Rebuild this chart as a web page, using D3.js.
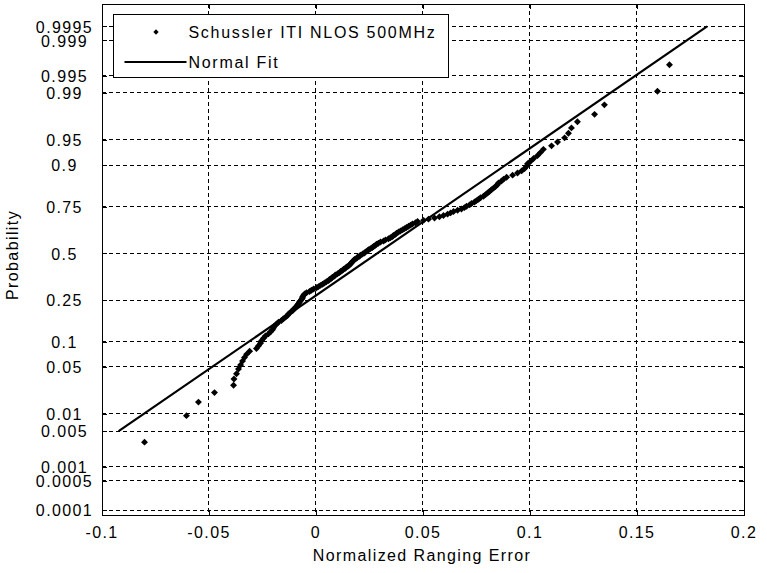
<!DOCTYPE html>
<html>
<head>
<meta charset="utf-8">
<script src="https://cdn.jsdelivr.net/npm/d3@7"></script>
<style>
  body { margin: 0; background: #fff; }
  svg text { font-family: "Liberation Sans", Arial, sans-serif; font-size: 16px; letter-spacing: 1.4px; fill: #000; }
  svg text.legend-text { letter-spacing: 1.7px; }
</style>
</head>
<body>
<div id="chart"></div>
<script>
// sorted normalized ranging errors
const errVals = [
  -0.0799, -0.0603, -0.0547, -0.0472, -0.0383, -0.0381, -0.0369, -0.0360, -0.0350, -0.0341,
  -0.0332, -0.0322, -0.0308, -0.0276, -0.0266, -0.0257, -0.0252, -0.0243, -0.0234, -0.0220,
  -0.0210, -0.0201, -0.0196, -0.0192, -0.0182, -0.0173, -0.0159, -0.0150, -0.0140, -0.0131,
  -0.0126, -0.0117, -0.0107, -0.0103, -0.0093, -0.0089, -0.0084, -0.0079, -0.0075, -0.0070,
  -0.0065, -0.0061, -0.0060, -0.0056, -0.0051, -0.0042, -0.0028, -0.0019, -0.0009, 0.0005,
  0.0014, 0.0023, 0.0033, 0.0042, 0.0051, 0.0061, 0.0065, 0.0075, 0.0079, 0.0089,
  0.0093, 0.0103, 0.0112, 0.0117, 0.0126, 0.0131, 0.0140, 0.0145, 0.0154, 0.0159,
  0.0164, 0.0168, 0.0173, 0.0178, 0.0182, 0.0192, 0.0196, 0.0206, 0.0210, 0.0220,
  0.0229, 0.0234, 0.0243, 0.0248, 0.0257, 0.0266, 0.0271, 0.0280, 0.0285, 0.0294,
  0.0304, 0.0318, 0.0327, 0.0341, 0.0350, 0.0360, 0.0364, 0.0374, 0.0379, 0.0388,
  0.0397, 0.0407, 0.0416, 0.0425, 0.0435, 0.0444, 0.0453, 0.0467, 0.0477, 0.0505,
  0.0528, 0.0556, 0.0579, 0.0598, 0.0617, 0.0631, 0.0645, 0.0664, 0.0682, 0.0696,
  0.0706, 0.0720, 0.0729, 0.0743, 0.0752, 0.0762, 0.0771, 0.0785, 0.0794, 0.0804,
  0.0813, 0.0822, 0.0832, 0.0841, 0.0850, 0.0855, 0.0869, 0.0879, 0.0893, 0.0921,
  0.0944, 0.0963, 0.0977, 0.0986, 0.0991, 0.1005, 0.1019, 0.1037, 0.1051, 0.1065,
  0.1103, 0.1131, 0.1164, 0.1182, 0.1196, 0.1224, 0.1304, 0.1350, 0.1598, 0.1654
];

// normal fit line end points
const fitX = [-0.092, 0.183];
const fitP = [0.005, 0.9995];

const xTicks = [-0.1, -0.05, 0, 0.05, 0.1, 0.15, 0.2];
const xTickLabels = ["-0.1", "-0.05", "0", "0.05", "0.1", "0.15", "0.2"];
const yTicks = [0.0001, 0.0005, 0.001, 0.005, 0.01, 0.05, 0.1, 0.25, 0.5, 0.75, 0.9, 0.95, 0.99, 0.995, 0.999, 0.9995];
const yTickLabels = ["0.0001", "0.0005", "0.001", "0.005", "0.01", "0.05", "0.1", "0.25", "0.5", "0.75", "0.9", "0.95", "0.99", "0.995", "0.999", "0.9995"];

const legendNames = ["Schussler ITI NLOS 500MHz", "Normal Fit"];

// inverse normal cdf (Acklam)
function probit(p) {
    const a = [-3.969683028665376e+01, 2.209460984245205e+02, -2.759285104469687e+02, 1.383577518672690e+02, -3.066479806614716e+01, 2.506628277459239e+00];
    const b = [-5.447609879822406e+01, 1.615858368580409e+02, -1.556989798598866e+02, 6.680131188771972e+01, -1.328068155288572e+01];
    const c = [-7.784894002430293e-03, -3.223964580411365e-01, -2.400758277161838e+00, -2.549732539343734e+00, 4.374664141464968e+00, 2.938163982698783e+00];
    const d = [7.784695709041462e-03, 3.224671290700398e-01, 2.445134137142996e+00, 3.754408661907416e+00];
    const pl = 0.02425;
    let q, r;
    if (p < pl) {
        q = Math.sqrt(-2 * Math.log(p));
        return (((((c[0]*q + c[1])*q + c[2])*q + c[3])*q + c[4])*q + c[5]) / ((((d[0]*q + d[1])*q + d[2])*q + d[3])*q + 1);
    }
    if (p > 1 - pl) {
        q = Math.sqrt(-2 * Math.log(1 - p));
        return -(((((c[0]*q + c[1])*q + c[2])*q + c[3])*q + c[4])*q + c[5]) / ((((d[0]*q + d[1])*q + d[2])*q + d[3])*q + 1);
    }
    q = p - 0.5;
    r = q * q;
    return (((((a[0]*r + a[1])*r + a[2])*r + a[3])*r + a[4])*r + a[5])*q / (((((b[0]*r + b[1])*r + b[2])*r + b[3])*r + b[4])*r + 1);
}

const W = 767, H = 573;
const margin = {left: 101, top: 3, right: 24, bottom: 59};
const w = W - margin.left - margin.right;
const h = H - margin.top - margin.bottom;

const svg = d3.select("#chart").append("svg")
    .attr("width", W)
    .attr("height", H);

const g = svg.append("g")
    .attr("transform", "translate(" + (margin.left + 0.5) + "," + (margin.top + 0.5) + ")");

const x = d3.scaleLinear().domain([-0.1, 0.2]).range([0, w]);
// probability axis drawn in standard-normal units
const y = d3.scaleLinear().domain([-3.783, 3.623]).range([h, 0]);

// grid
const grid = g.append("g").attr("stroke", "#000").attr("stroke-dasharray", "4,3").attr("shape-rendering", "crispEdges");
grid.selectAll(".gx").data(xTicks.slice(1, -1)).join("line")
    .attr("x1", d => Math.round(x(d))).attr("x2", d => Math.round(x(d)))
    .attr("y1", 0).attr("y2", h);
grid.selectAll(".gy").data(yTicks).join("line")
    .attr("x1", 0).attr("x2", w)
    .attr("y1", d => Math.round(y(probit(d)))).attr("y2", d => Math.round(y(probit(d))));

// axes
const yz = yTicks.map(probit);
const axB = g.append("g").attr("transform", "translate(0," + h + ")")
    .call(d3.axisBottom(x).tickValues(xTicks).tickSize(-5).tickPadding(12)
        .tickFormat((d, i) => xTickLabels[i]));
const axT = g.append("g")
    .call(d3.axisTop(x).tickValues(xTicks).tickSize(-5).tickFormat(""));
const axL = g.append("g")
    .call(d3.axisLeft(y).tickValues(yz).tickSize(-5).tickPadding(0)
        .tickFormat((d, i) => yTickLabels[i]));
const axR = g.append("g").attr("transform", "translate(" + w + ",0)")
    .call(d3.axisRight(y).tickValues(yz).tickSize(-5).tickFormat(""));

[axB, axT, axL, axR].forEach(a => {
    a.attr("font-family", null).attr("font-size", null);
    a.selectAll("line, path").attr("stroke", "#000").attr("shape-rendering", "crispEdges");
});
axB.selectAll("text").attr("dy", "0.71em");
axL.selectAll("text").attr("text-anchor", "middle").attr("x", -37).attr("dy", "0.36em");

// fit line
const fitLine = d3.line()
    .x(d => x(d[0]))
    .y(d => y(probit(d[1])));
g.append("path")
    .datum(fitX.map((v, i) => [v, fitP[i]]))
    .attr("d", fitLine)
    .attr("fill", "none")
    .attr("stroke", "#000")
    .attr("stroke-width", 2.2);

// data points with (i-0.5)/n plotting positions
const n = errVals.length;
const diamond = d3.symbol().type(d3.symbolSquare).size(24);
g.append("g").selectAll("path")
    .data(errVals)
    .join("path")
    .attr("d", diamond)
    .attr("fill", "#000")
    .attr("transform", (d, i) => "translate(" + x(d) + "," + y(probit((i + 0.5) / n)) + ") rotate(45)");

// axis titles
svg.append("text")
    .attr("x", margin.left + w / 2)
    .attr("y", 561)
    .attr("text-anchor", "middle")
    .text("Normalized Ranging Error");
svg.append("text")
    .attr("transform", "translate(18," + 255 + ") rotate(-90)")
    .attr("text-anchor", "middle")
    .text("Probability");

// legend
const leg = svg.append("g").attr("transform", "translate(113.5,14.5)");
leg.append("rect")
    .attr("width", 335).attr("height", 63)
    .attr("fill", "#fff").attr("stroke", "#000")
    .attr("shape-rendering", "crispEdges");
leg.append("path")
    .attr("d", d3.symbol().type(d3.symbolSquare).size(14))
    .attr("transform", "translate(42.5,17.5) rotate(45)")
    .attr("fill", "#000");
leg.append("line")
    .attr("x1", 11).attr("x2", 73).attr("y1", 47.5).attr("y2", 47.5)
    .attr("stroke", "#000").attr("stroke-width", 2);
leg.selectAll(".lt").data(legendNames).join("text")
    .attr("class", "legend-text")
    .attr("x", 75)
    .attr("y", (d, i) => 17.5 + i * 30)
    .attr("dy", "0.36em")
    .text(d => d);
</script>
</body>
</html>
